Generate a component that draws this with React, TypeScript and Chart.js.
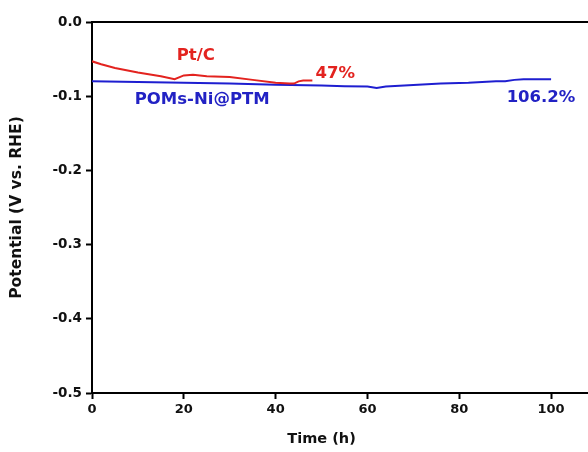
import React, { useEffect, useRef } from "react";
import { Chart, registerables } from "chart.js";

Chart.register(...registerables);

const ptcTime = [0, 2, 5, 10, 15, 18, 20, 22, 25, 30, 35, 40, 43, 44, 45, 46, 48];
const ptcPotential = [-0.053, -0.057, -0.062, -0.068, -0.073, -0.077, -0.072, -0.071, -0.073, -0.074, -0.078, -0.082, -0.083, -0.083, -0.08, -0.079, -0.079];

const pomsTime = [0, 10, 20, 30, 40, 50, 55, 60, 62, 64, 70, 76, 82, 88, 90, 92, 94, 100];
const pomsPotential = [-0.08, -0.081, -0.082, -0.083, -0.0845, -0.0855, -0.0865, -0.087, -0.089, -0.087, -0.085, -0.083, -0.082, -0.08, -0.08, -0.078, -0.077, -0.077];

const xTicks = [0, 20, 40, 60, 80, 100];
const yTicks = [0, -0.1, -0.2, -0.3, -0.4, -0.5];

const xTitle = "Time (h)";
const yTitle = "Potential (V vs. RHE)";

const labelTexts = ["Pt/C", "47%", "POMs-Ni@PTM", "106.2%"];
const labelX = [22.6, 53.0, 24.0, 97.8];
const labelY = [-0.046, -0.070, -0.105, -0.102];
const labelColors = ["#e3231f", "#e3231f", "#2222c4", "#2222c4"];

const RED = "#e3231f";
const BLUE = "#1e1ed0";
const FONT = "'DejaVu Sans', Verdana, sans-serif";

const framePlugin = {
  id: "frame",
  afterDraw(chart: any) {
    const { ctx, chartArea } = chart;
    ctx.save();
    ctx.strokeStyle = "#000";
    ctx.lineWidth = 2;
    ctx.beginPath();
    ctx.moveTo(chartArea.left - 1, chartArea.top);
    ctx.lineTo(chartArea.right, chartArea.top);
    ctx.lineTo(chartArea.right, chartArea.bottom);
    ctx.stroke();
    const xs = chart.scales.x;
    const ys = chart.scales.y;
    ctx.textAlign = "center";
    ctx.textBaseline = "middle";
    ctx.font = `bold 14.5px ${FONT}`;
    ctx.fillStyle = "#111";
    ctx.fillText(xTitle, xs.getPixelForValue(50), chartArea.bottom + 46);
    ctx.font = `bold 16.5px ${FONT}`;
    labelTexts.forEach((t, i) => {
      ctx.fillStyle = labelColors[i];
      ctx.fillText(t, xs.getPixelForValue(labelX[i]), ys.getPixelForValue(labelY[i]));
    });
    ctx.restore();
  },
};

export default function App() {
  const ref = useRef<HTMLCanvasElement>(null);
  useEffect(() => {
    if (!ref.current) return;
    const chart = new Chart(ref.current, {
      type: "line",
      data: {
        datasets: [
          {
            label: "Pt/C",
            data: ptcTime.map((t, i) => ({ x: t, y: ptcPotential[i] })),
            borderColor: RED,
            borderWidth: 2,
            pointRadius: 0,
            tension: 0,
          },
          {
            label: "POMs-Ni@PTM",
            data: pomsTime.map((t, i) => ({ x: t, y: pomsPotential[i] })),
            borderColor: BLUE,
            borderWidth: 2,
            pointRadius: 0,
            tension: 0,
          },
        ],
      },
      options: {
        animation: false,
        responsive: false,
        layout: { padding: { top: 22, right: 23, left: 0, bottom: 0 } },
        plugins: { legend: { display: false }, tooltip: { enabled: false } },
        scales: {
          x: {
            type: "linear",
            min: 0,
            max: 110,
            afterBuildTicks: (s: any) => {
              s.ticks = xTicks.map((v) => ({ value: v }));
            },
            afterFit: (s: any) => {
              s.height = 59;
            },
            ticks: {
              color: "#111",
              font: { family: FONT, size: 13, weight: "bold" },
              padding: 3,
              maxRotation: 0,
            },
            grid: { drawOnChartArea: false, tickLength: 6, tickColor: "#000", tickWidth: 2 },
            border: { color: "#000", width: 2 },
          },
          y: {
            type: "linear",
            min: -0.5,
            max: 0,
            afterBuildTicks: (s: any) => {
              s.ticks = yTicks.map((v) => ({ value: v }));
            },
            afterFit: (s: any) => {
              s.width = 92;
            },
            ticks: {
              color: "#111",
              font: { family: FONT, size: 13.5, weight: "bold" },
              padding: 4,
              callback: (v: any) => Number(v).toFixed(1),
            },
            grid: { drawOnChartArea: false, tickLength: 6, tickColor: "#000", tickWidth: 2 },
            border: { color: "#000", width: 2 },
            title: {
              display: true,
              text: yTitle,
              color: "#111",
              font: { family: FONT, size: 15.5, weight: "bold" },
              padding: { top: 8, bottom: 0 },
            },
          },
        },
      },
      plugins: [framePlugin],
    } as any);
    return () => chart.destroy();
  }, []);
  return (
    <div style={{ position: "fixed", left: 0, top: 0, width: 588, height: 452, overflow: "hidden", background: "#fff" }}>
      <canvas ref={ref} width={620} height={452} style={{ width: 620, height: 452, display: "block" }} />
    </div>
  );
}
